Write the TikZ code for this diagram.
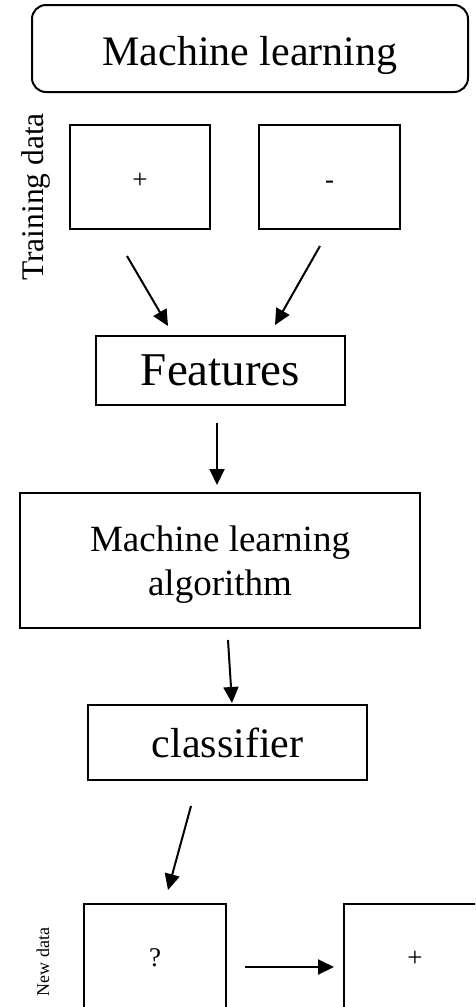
\documentclass[tikz,border=0pt]{standalone}
\usepackage{fontspec}
\setmainfont{Liberation Serif}
\usetikzlibrary{arrows.meta}
\tikzset{
  boxnode/.style={draw, line width=2pt, inner sep=0pt, align=center},
  symbox/.style={boxnode, minimum height=104pt, font=\fontsize{27}{32}\selectfont, text height=26pt, text depth=2.5pt},
  arr/.style={line width=2pt, -{Triangle[length=16pt,width=15pt]}},
}
\begin{document}
\begin{tikzpicture}[x=1pt,y=-1pt]
\path[use as bounding box] (0,0) rectangle (475,1007);
\clip (0,0) rectangle (475,1007);
\node[boxnode, rounded corners=14pt, minimum width=436pt, minimum height=87pt, font=\fontsize{42}{48}\selectfont, text height=33pt, text depth=0pt] (title) at (250,48.5) {Machine learning};
\node[rotate=90, font=\fontsize{31.5}{36}\selectfont] (train) at (36,197) {Training data};
\node[symbox, minimum width=140pt] (pos) at (140,177) {+};
\node[symbox, minimum width=141pt] (neg) at (329.5,177) {-};
\node[boxnode, minimum width=249pt, minimum height=69pt, font=\fontsize{47}{54}\selectfont] (feat) at (220.5,370.5) {Features};
\node[boxnode, minimum width=400pt, minimum height=135pt, font=\fontsize{37}{44}\selectfont, text depth=0pt] (mla) at (220,560.5) {Machine learning\\algorithm};
\node[boxnode, minimum width=279pt, minimum height=75pt, font=\fontsize{42}{48}\selectfont] (cls) at (227.5,742.5) {classifier};
\node[symbox, minimum width=142pt, text height=24pt, text depth=2.5pt] (new) at (155,956) {?};
\node[symbox, minimum width=142pt, text height=24pt, text depth=2.5pt] (res) at (415,956) {+};
\node[rotate=90, font=\fontsize{18}{22}\selectfont] (newlab) at (43,962) {New data};
\coordinate (a1s) at (127,256);
\coordinate (a1e) at (168,326);
\coordinate (a2s) at (320,246);
\coordinate (a2e) at (275,325);
\coordinate (a3s) at (217,423);
\coordinate (a3e) at (217,485);
\coordinate (a4s) at (228,640);
\coordinate (a4e) at (232,703);
\coordinate (a5s) at (191,806);
\coordinate (a5e) at (168,890);
\draw[arr] (a1s) -- (a1e);
\draw[arr] (a2s) -- (a2e);
\draw[arr] (a3s) -- (a3e);
\draw[arr] (a4s) -- (a4e);
\draw[arr] (a5s) -- (a5e);
\draw[arr] ([xshift=18pt]new.east |- 0,967) -- ([xshift=-9pt]res.west |- 0,967);
\end{tikzpicture}
\end{document}
